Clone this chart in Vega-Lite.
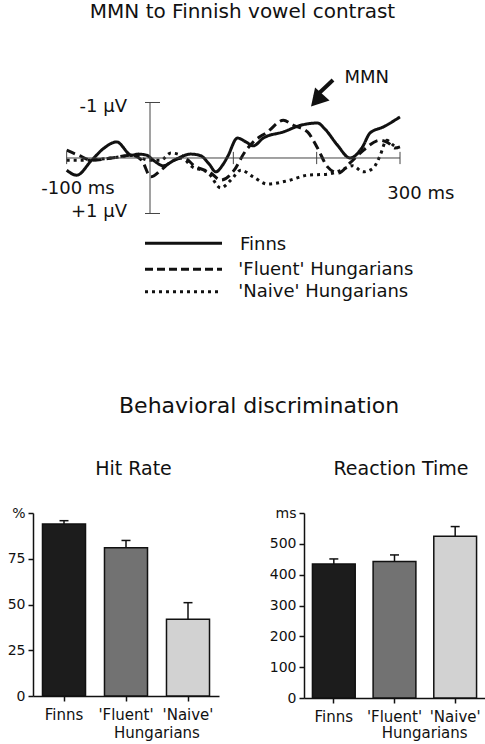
{
  "$schema": "https://vega.github.io/schema/vega-lite/v6.json",
  "padding": {"left": 7, "top": 2, "right": 0, "bottom": 0},
  "bounds": "flush",
  "spacing": 203,
  "datasets": {
    "erp": [
      {"group": "Finns", "ms": -100, "uV": 0.22},
      {"group": "Finns", "ms": -88, "uV": 0.31},
      {"group": "Finns", "ms": -70, "uV": 0.04},
      {"group": "Finns", "ms": -55, "uV": -0.18},
      {"group": "Finns", "ms": -40, "uV": -0.29},
      {"group": "Finns", "ms": -22, "uV": -0.05},
      {"group": "Finns", "ms": -14, "uV": -0.07},
      {"group": "Finns", "ms": -4, "uV": -0.05},
      {"group": "Finns", "ms": 4, "uV": 0.04},
      {"group": "Finns", "ms": 16, "uV": 0.14},
      {"group": "Finns", "ms": 29, "uV": 0.04},
      {"group": "Finns", "ms": 49, "uV": -0.07},
      {"group": "Finns", "ms": 61, "uV": -0.04},
      {"group": "Finns", "ms": 71, "uV": 0.11},
      {"group": "Finns", "ms": 79, "uV": 0.25},
      {"group": "Finns", "ms": 87, "uV": 0.13},
      {"group": "Finns", "ms": 93, "uV": -0.02},
      {"group": "Finns", "ms": 105, "uV": -0.36},
      {"group": "Finns", "ms": 115, "uV": -0.29},
      {"group": "Finns", "ms": 124, "uV": -0.22},
      {"group": "Finns", "ms": 136, "uV": -0.36},
      {"group": "Finns", "ms": 160, "uV": -0.47},
      {"group": "Finns", "ms": 181, "uV": -0.59},
      {"group": "Finns", "ms": 201, "uV": -0.63},
      {"group": "Finns", "ms": 210, "uV": -0.52},
      {"group": "Finns", "ms": 225, "uV": -0.23},
      {"group": "Finns", "ms": 240, "uV": 0.0},
      {"group": "Finns", "ms": 255, "uV": -0.2},
      {"group": "Finns", "ms": 264, "uV": -0.45},
      {"group": "Finns", "ms": 280, "uV": -0.56},
      {"group": "Finns", "ms": 300, "uV": -0.74},
      {"group": "'Fluent' Hungarians", "ms": -100, "uV": -0.14},
      {"group": "'Fluent' Hungarians", "ms": -86, "uV": -0.05},
      {"group": "'Fluent' Hungarians", "ms": -70, "uV": 0.04},
      {"group": "'Fluent' Hungarians", "ms": -46, "uV": 0.0},
      {"group": "'Fluent' Hungarians", "ms": -22, "uV": -0.05},
      {"group": "'Fluent' Hungarians", "ms": -10, "uV": 0.04},
      {"group": "'Fluent' Hungarians", "ms": 1, "uV": 0.34},
      {"group": "'Fluent' Hungarians", "ms": 13, "uV": 0.22},
      {"group": "'Fluent' Hungarians", "ms": 25, "uV": 0.07},
      {"group": "'Fluent' Hungarians", "ms": 41, "uV": 0.0},
      {"group": "'Fluent' Hungarians", "ms": 53, "uV": 0.14},
      {"group": "'Fluent' Hungarians", "ms": 73, "uV": 0.27},
      {"group": "'Fluent' Hungarians", "ms": 85, "uV": 0.4},
      {"group": "'Fluent' Hungarians", "ms": 101, "uV": 0.22},
      {"group": "'Fluent' Hungarians", "ms": 113, "uV": -0.09},
      {"group": "'Fluent' Hungarians", "ms": 124, "uV": -0.29},
      {"group": "'Fluent' Hungarians", "ms": 141, "uV": -0.47},
      {"group": "'Fluent' Hungarians", "ms": 160, "uV": -0.68},
      {"group": "'Fluent' Hungarians", "ms": 172, "uV": -0.59},
      {"group": "'Fluent' Hungarians", "ms": 189, "uV": -0.47},
      {"group": "'Fluent' Hungarians", "ms": 201, "uV": -0.18},
      {"group": "'Fluent' Hungarians", "ms": 213, "uV": 0.16},
      {"group": "'Fluent' Hungarians", "ms": 226, "uV": 0.27},
      {"group": "'Fluent' Hungarians", "ms": 240, "uV": 0.09},
      {"group": "'Fluent' Hungarians", "ms": 256, "uV": -0.14},
      {"group": "'Fluent' Hungarians", "ms": 276, "uV": -0.32},
      {"group": "'Fluent' Hungarians", "ms": 286, "uV": -0.27},
      {"group": "'Fluent' Hungarians", "ms": 294, "uV": -0.18},
      {"group": "'Fluent' Hungarians", "ms": 300, "uV": -0.2},
      {"group": "'Naive' Hungarians", "ms": -100, "uV": 0.04},
      {"group": "'Naive' Hungarians", "ms": -79, "uV": 0.04},
      {"group": "'Naive' Hungarians", "ms": -46, "uV": 0.0},
      {"group": "'Naive' Hungarians", "ms": -19, "uV": -0.05},
      {"group": "'Naive' Hungarians", "ms": -2, "uV": 0.04},
      {"group": "'Naive' Hungarians", "ms": 13, "uV": 0.04},
      {"group": "'Naive' Hungarians", "ms": 25, "uV": -0.09},
      {"group": "'Naive' Hungarians", "ms": 37, "uV": -0.05},
      {"group": "'Naive' Hungarians", "ms": 49, "uV": 0.14},
      {"group": "'Naive' Hungarians", "ms": 70, "uV": 0.27},
      {"group": "'Naive' Hungarians", "ms": 85, "uV": 0.54},
      {"group": "'Naive' Hungarians", "ms": 97, "uV": 0.4},
      {"group": "'Naive' Hungarians", "ms": 109, "uV": 0.22},
      {"group": "'Naive' Hungarians", "ms": 124, "uV": 0.34},
      {"group": "'Naive' Hungarians", "ms": 141, "uV": 0.47},
      {"group": "'Naive' Hungarians", "ms": 165, "uV": 0.41},
      {"group": "'Naive' Hungarians", "ms": 189, "uV": 0.31},
      {"group": "'Naive' Hungarians", "ms": 213, "uV": 0.29},
      {"group": "'Naive' Hungarians", "ms": 228, "uV": 0.23},
      {"group": "'Naive' Hungarians", "ms": 243, "uV": 0.14},
      {"group": "'Naive' Hungarians", "ms": 256, "uV": 0.25},
      {"group": "'Naive' Hungarians", "ms": 268, "uV": 0.18},
      {"group": "'Naive' Hungarians", "ms": 276, "uV": -0.04},
      {"group": "'Naive' Hungarians", "ms": 284, "uV": -0.32},
      {"group": "'Naive' Hungarians", "ms": 292, "uV": -0.23},
      {"group": "'Naive' Hungarians", "ms": 298, "uV": -0.18}
    ],
    "ticks": [{"tick": -100}, {"tick": 100}, {"tick": 200}, {"tick": 300}],
    "behav": [
      {"group": "Finns", "hit": 94, "hitHi": 95.8, "rt": 435, "rtHi": 451},
      {"group": "'Fluent'", "hit": 81, "hitHi": 85, "rt": 443, "rtHi": 464},
      {"group": "'Naive'", "hit": 42, "hitHi": 51, "rt": 525, "rtHi": 556}
    ]
  },
  "config": {
    "font": "DejaVu Sans",
    "view": {"stroke": null},
    "axis": {
      "grid": false, "labelFont": "DejaVu Sans", "labelFontSize": 14,
      "labelColor": "#111", "domainColor": "#111", "tickColor": "#111",
      "domainWidth": 1.5, "tickWidth": 1.5, "tickSize": 5, "labelPadding": 3,
      "labelOverlap": false
    },
    "title": {"font": "DejaVu Sans", "fontWeight": "normal", "color": "#111"},
    "text": {"font": "DejaVu Sans", "color": "#111"}
  },
  "vconcat": [
    {
      "width": 452,
      "height": 265,
      "title": {"text": "MMN to Finnish vowel contrast", "fontSize": 20, "anchor": "middle", "frame": "group", "dx": -16.5, "offset": 23},
      "data": {"values": [{}]},
      "layer": [
        {
          "data": {"name": "erp"},
          "mark": {"type": "line", "interpolate": "monotone", "strokeWidth": 3, "color": "#111"},
          "encoding": {
            "x": {"field": "ms", "type": "quantitative", "scale": {"domain": [-140.4, 402], "nice": false, "zero": false}, "axis": null},
            "y": {"field": "uV", "type": "quantitative", "scale": {"domain": [-2.036, 2.739], "nice": false, "zero": false, "reverse": true}, "axis": null},
            "strokeDash": {"field": "group", "type": "nominal", "scale": {"domain": ["Finns", "'Fluent' Hungarians", "'Naive' Hungarians"], "range": [[1, 0], [9, 5], [3, 4]]}, "legend": null}
          }
        },
        {
          "mark": {"type": "rule", "color": "#444", "strokeWidth": 1},
          "encoding": {"x": {"datum": -100}, "x2": {"datum": 300}, "y": {"datum": 0}}
        },
        {
          "mark": {"type": "rule", "color": "#444", "strokeWidth": 1},
          "encoding": {"x": {"datum": 0}, "y": {"datum": -1}, "y2": {"datum": 1}}
        },
        {
          "data": {"name": "ticks"},
          "mark": {"type": "rule", "color": "#444", "strokeWidth": 1},
          "encoding": {"x": {"field": "tick", "type": "quantitative"}, "y": {"datum": -0.11}, "y2": {"datum": 0.11}}
        },
        {
          "mark": {"type": "rule", "color": "#444", "strokeWidth": 1},
          "encoding": {"x": {"datum": -6}, "x2": {"datum": 12}, "y": {"datum": -1}}
        },
        {
          "mark": {"type": "rule", "color": "#444", "strokeWidth": 1},
          "encoding": {"x": {"datum": -6}, "x2": {"datum": 12}, "y": {"datum": 1}}
        },
        {
          "mark": {"type": "text", "text": "-1 µV", "fontSize": 18, "align": "right", "baseline": "middle"},
          "encoding": {"x": {"datum": -27.6}, "y": {"datum": -0.92}}
        },
        {
          "mark": {"type": "text", "text": "+1 µV", "fontSize": 18, "align": "right", "baseline": "middle"},
          "encoding": {"x": {"datum": -27.6}, "y": {"datum": 0.98}}
        },
        {
          "mark": {"type": "text", "text": "-100 ms", "fontSize": 18, "align": "center", "baseline": "middle"},
          "encoding": {"x": {"datum": -86.4}, "y": {"datum": 0.55}}
        },
        {
          "mark": {"type": "text", "text": "300 ms", "fontSize": 18, "align": "center", "baseline": "middle"},
          "encoding": {"x": {"datum": 325}, "y": {"datum": 0.64}}
        },
        {
          "mark": {"type": "text", "text": "MMN", "fontSize": 18, "align": "center", "baseline": "middle"},
          "encoding": {"x": {"datum": 260}, "y": {"datum": -1.45}}
        },
        {
          "mark": {"type": "rule", "color": "#111", "strokeWidth": 4},
          "encoding": {"x": {"datum": 219.6}, "y": {"datum": -1.405}, "x2": {"datum": 198}, "y2": {"datum": -1.1}}
        },
        {
          "mark": {"type": "point", "shape": "triangle-down", "filled": true, "color": "#111", "opacity": 1, "size": 380, "angle": 42},
          "encoding": {"x": {"datum": 200}, "y": {"datum": -1.04}}
        },
        {
          "mark": {"type": "rule", "color": "#111", "strokeWidth": 3, "strokeDash": [1, 0]},
          "encoding": {"x": {"datum": -6}, "x2": {"datum": 86.4}, "y": {"datum": 1.537}}
        },
        {
          "mark": {"type": "rule", "color": "#111", "strokeWidth": 3, "strokeDash": [8, 4]},
          "encoding": {"x": {"datum": -6}, "x2": {"datum": 86.4}, "y": {"datum": 2.006}}
        },
        {
          "mark": {"type": "rule", "color": "#111", "strokeWidth": 3, "strokeDash": [3, 4]},
          "encoding": {"x": {"datum": -6}, "x2": {"datum": 86.4}, "y": {"datum": 2.41}}
        },
        {
          "mark": {"type": "text", "text": "Finns", "fontSize": 18, "align": "left", "baseline": "middle"},
          "encoding": {"x": {"datum": 108}, "y": {"datum": 1.57}}
        },
        {
          "mark": {"type": "text", "text": "'Fluent' Hungarians", "fontSize": 18, "align": "left", "baseline": "middle"},
          "encoding": {"x": {"datum": 106}, "y": {"datum": 2.02}}
        },
        {
          "mark": {"type": "text", "text": "'Naive' Hungarians", "fontSize": 18, "align": "left", "baseline": "middle"},
          "encoding": {"x": {"datum": 106}, "y": {"datum": 2.42}}
        }
      ]
    },
    {
      "title": {"text": "Behavioral discrimination", "fontSize": 22, "anchor": "middle", "frame": "bounds", "dx": 13, "offset": 42},
      "bounds": "flush",
      "spacing": 85,
      "hconcat": [
        {
          "width": 186,
          "height": 183,
          "title": {"text": "Hit Rate", "fontSize": 19, "anchor": "middle", "frame": "group", "dx": 7.5, "offset": 27},
          "data": {"name": "behav"},
          "layer": [
            {
              "mark": {"type": "bar", "stroke": "#111", "strokeWidth": 1.5},
              "encoding": {
                "x": {"field": "group", "type": "nominal", "sort": null, "scale": {"paddingInner": 0.306, "paddingOuter": 0.153}, "axis": {"title": null, "labelAngle": 0, "labelFontSize": 15, "labelPadding": 6}},
                "y": {"field": "hit", "type": "quantitative", "scale": {"domain": [0, 100], "nice": false}, "axis": {"title": null, "values": [0, 25, 50, 75, 100], "labelOverlap": false, "labelExpr": "datum.value == 100 ? '%' : datum.label"}},
                "fill": {"field": "group", "type": "nominal", "scale": {"domain": ["Finns", "'Fluent'", "'Naive'"], "range": ["#1c1c1c", "#727272", "#d2d2d2"]}, "legend": null}
              }
            },
            {
              "mark": {"type": "rule", "color": "#111", "strokeWidth": 1.5},
              "encoding": {
                "x": {"field": "group", "type": "nominal", "sort": null},
                "y": {"field": "hit", "type": "quantitative"},
                "y2": {"field": "hitHi"}
              }
            },
            {
              "mark": {"type": "tick", "orient": "horizontal", "size": 9, "thickness": 1.5, "color": "#111", "opacity": 1},
              "encoding": {
                "x": {"field": "group", "type": "nominal", "sort": null},
                "y": {"field": "hitHi", "type": "quantitative"}
              }
            },
            {
              "data": {"values": [{}]},
              "mark": {"type": "text", "text": "Hungarians", "fontSize": 15, "align": "center", "baseline": "alphabetic", "dx": -31, "dy": 42},
              "encoding": {"x": {"datum": "'Naive'"}, "y": {"datum": 0}}
            }
          ]
        },
        {
          "width": 181,
          "height": 185,
          "title": {"text": "Reaction Time", "fontSize": 19, "anchor": "middle", "frame": "group", "dx": 6.5, "offset": 27},
          "data": {"name": "behav"},
          "layer": [
            {
              "mark": {"type": "bar", "stroke": "#111", "strokeWidth": 1.5},
              "encoding": {
                "x": {"field": "group", "type": "nominal", "sort": null, "scale": {"paddingInner": 0.295, "paddingOuter": 0.139}, "axis": {"title": null, "labelAngle": 0, "labelFontSize": 15, "labelPadding": 6}},
                "y": {"field": "rt", "type": "quantitative", "scale": {"domain": [0, 600], "nice": false}, "axis": {"title": null, "values": [0, 100, 200, 300, 400, 500, 600], "tickCount": 7, "labelOverlap": false, "labelExpr": "datum.value == 600 ? 'ms' : datum.label"}},
                "fill": {"field": "group", "type": "nominal", "scale": {"domain": ["Finns", "'Fluent'", "'Naive'"], "range": ["#1c1c1c", "#727272", "#d2d2d2"]}, "legend": null}
              }
            },
            {
              "mark": {"type": "rule", "color": "#111", "strokeWidth": 1.5},
              "encoding": {
                "x": {"field": "group", "type": "nominal", "sort": null},
                "y": {"field": "rt", "type": "quantitative"},
                "y2": {"field": "rtHi"}
              }
            },
            {
              "mark": {"type": "tick", "orient": "horizontal", "size": 9, "thickness": 1.5, "color": "#111", "opacity": 1},
              "encoding": {
                "x": {"field": "group", "type": "nominal", "sort": null},
                "y": {"field": "rtHi", "type": "quantitative"}
              }
            },
            {
              "data": {"values": [{}]},
              "mark": {"type": "text", "text": "Hungarians", "fontSize": 15, "align": "center", "baseline": "alphabetic", "dx": -30.5, "dy": 40},
              "encoding": {"x": {"datum": "'Naive'"}, "y": {"datum": 0}}
            }
          ]
        }
      ]
    }
  ]
}
